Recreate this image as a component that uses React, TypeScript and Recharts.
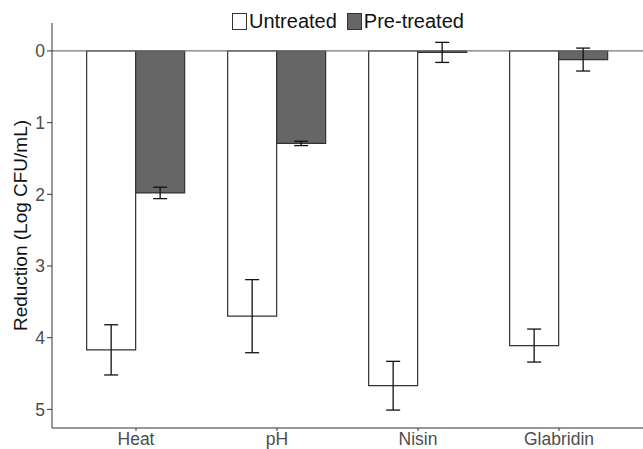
import React from "react";
import { BarChart, Bar, XAxis, YAxis, ErrorBar, ReferenceLine } from "recharts";

const categories = ["Heat", "pH", "Nisin", "Glabridin"];
const untreated = [4.17, 3.7, 4.67, 4.11];
const untreatedErr = [0.35, 0.51, 0.34, 0.23];
const pretreated = [1.98, 1.29, 0.02, 0.12];
const pretreatedErr = [0.08, 0.03, 0.14, 0.16];
const yTicks = [0, 1, 2, 3, 4, 5];

const data = categories.map((name, i) => ({
    name,
    Untreated: untreated[i],
    uErr: untreatedErr[i],
    "Pre-treated": pretreated[i],
    pErr: pretreatedErr[i],
}));

const font = "'Liberation Sans', Arial, sans-serif";

const LegendBox = ({ fill, label }: { fill: string; label: string }) => (
    <span style={{ display: "inline-flex", alignItems: "center", marginRight: 10 }}>
        <span style={{ width: 13, height: 15, border: "1px solid #333", background: fill, display: "inline-block", marginRight: 2 }} />
        <span>{label}</span>
    </span>
);

const App = () => {
    return (
        <div style={{ position: "absolute", left: 0, top: 0, width: 643, height: 449, background: "#fff", fontFamily: font }}>
            <div style={{ position: "absolute", top: 9, left: 232, fontSize: 20, color: "#111", whiteSpace: "nowrap", lineHeight: "24px" }}>
                <LegendBox fill="#fff" label="Untreated" />
                <LegendBox fill="#666666" label="Pre-treated" />
            </div>
            <BarChart
                width={643}
                height={449}
                data={data}
                margin={{ top: 23, right: 0, left: 0, bottom: 0 }}
                barCategoryGap="15%"
                barGap={0}
            >
                <XAxis
                    dataKey="name"
                    height={21}
                    padding={{ left: 13.5, right: 13.5 }}
                    stroke="#333"
                    tickSize={3}
                    tick={{ fill: "#4d4d4d", fontSize: 17.5, fontFamily: font }}
                    tickLine={{ stroke: "#333" }}
                />
                <YAxis
                    reversed
                    type="number"
                    domain={[-0.39, 5.26]}
                    ticks={yTicks}
                    allowDataOverflow
                    width={52}
                    stroke="#333"
                    tickSize={5}
                    tick={{ fill: "#4d4d4d", fontSize: 17.5, fontFamily: font }}
                    label={{
                        value: "Reduction (Log CFU/mL)",
                        angle: -90,
                        position: "insideLeft",
                        offset: 0,
                        dx: 20,
                        style: { textAnchor: "middle", fill: "#111", fontSize: 19, fontFamily: font },
                    }}
                />
                <ReferenceLine y={0} stroke="#777" strokeWidth={1.2} />
                <Bar dataKey="Untreated" fill="#ffffff" stroke="#333" strokeWidth={1.2} isAnimationActive={false}>
                    <ErrorBar dataKey="uErr" width={7} stroke="#111" strokeWidth={1.3} direction="y" />
                </Bar>
                <Bar dataKey="Pre-treated" fill="#666666" stroke="#333" strokeWidth={1.2} isAnimationActive={false}>
                    <ErrorBar dataKey="pErr" width={7} stroke="#111" strokeWidth={1.3} direction="y" />
                </Bar>
            </BarChart>
        </div>
    );
};

export default App;
